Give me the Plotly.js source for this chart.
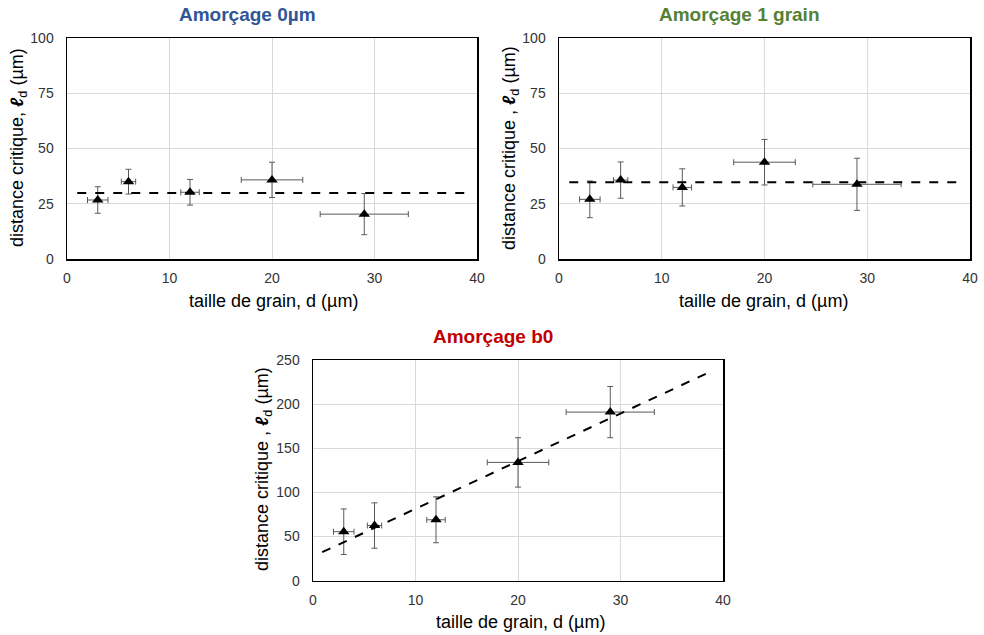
<!DOCTYPE html>
<html>
<head>
<meta charset="utf-8">
<script src="https://cdn.plot.ly/plotly-3.0.1.min.js"></script>
<style>html,body{margin:0;padding:0;background:#fff;}#chart{width:984px;height:635px;}</style>
</head>
<body>
<div id="chart"></div>
<script>
// grain sizes (x) and their spread
const grainSize = [3, 6, 12, 20, 29];
const grainErr  = [1, 0.7, 0.9, 3, 4.3];

// Panel A: Amorçage 0µm
const ldA    = [26.7, 35.0, 30.2, 35.8, 20.3];
const ldAErr = [6, 5.6, 5.8, 8, 9.3];
const trendAX = [1, 39];
const trendAY = [29.9, 29.9];

// Panel B: Amorçage 1 grain
const ldB    = [27.0, 35.7, 32.4, 43.8, 33.8];
const ldBErr = [8.3, 8.2, 8.4, 10.3, 11.8];
const trendBX = [1, 39];
const trendBY = [34.7, 34.7];

// Panel C: Amorçage b0
const ldC    = [55.5, 62.5, 69, 134, 191];
const ldCErr = [25.8, 25.7, 26, 28, 29];
const trendCX = [0.9, 39.1];
const trendCY = [32.3, 238.5];

const titles = ['Amorçage 0µm', 'Amorçage 1 grain', 'Amorçage b0'];
const titleColors = ['#2F5597', '#548235', '#C00000'];
const xTickVals = [0, 10, 20, 30, 40];

const FONT = 'Liberation Sans, Arial, sans-serif';
const errColor = '#595959';

function pointsTrace(y, yerr, xa, ya) {
  return {
    x: grainSize, y: y, xaxis: xa, yaxis: ya, type: 'scatter', mode: 'markers',
    marker: {symbol: 'triangle-up', size: 10, color: '#000'},
    error_y: {type: 'data', array: yerr, visible: true, color: errColor, thickness: 1, width: 3},
    error_x: {type: 'data', array: grainErr, visible: true, color: errColor, thickness: 1, width: 3},
    showlegend: false, hoverinfo: 'x+y'
  };
}
function trendTrace(x, y, xa, ya) {
  return {
    x: x, y: y, xaxis: xa, yaxis: ya, type: 'scatter', mode: 'lines',
    line: {color: '#000', width: 2, dash: 'dash'}, showlegend: false, hoverinfo: 'skip'
  };
}

const data = [
  pointsTrace(ldA, ldAErr, 'x', 'y'),
  trendTrace(trendAX, trendAY, 'x', 'y'),
  pointsTrace(ldB, ldBErr, 'x2', 'y2'),
  trendTrace(trendBX, trendBY, 'x2', 'y2'),
  pointsTrace(ldC, ldCErr, 'x3', 'y3'),
  trendTrace(trendCX, trendCY, 'x3', 'y3')
];

const W = 984, H = 635;
function xdom(l, r) { return [l / W, r / W]; }
function ydom(b, t) { return [1 - b / H, 1 - t / H]; }

function xAxis(dom, anchor) {
  return {
    domain: dom, anchor: anchor, range: [0, 40], tickvals: xTickVals,
    showgrid: true, gridcolor: '#d9d9d9', gridwidth: 1, zeroline: false,
    showline: true, mirror: true, linecolor: '#000', linewidth: 1.5,
    ticks: '', ticklabelstandoff: 6,
    tickfont: {family: FONT, size: 14, color: '#333'}, fixedrange: true
  };
}
function yAxis(dom, anchor, max, dt) {
  return {
    domain: dom, anchor: anchor, range: [0, max], dtick: dt, tick0: 0,
    showgrid: true, gridcolor: '#d9d9d9', gridwidth: 1, zeroline: false,
    showline: true, mirror: true, linecolor: '#000', linewidth: 1.5,
    ticks: '', ticklabelstandoff: 9,
    tickfont: {family: FONT, size: 14, color: '#333'}, fixedrange: true
  };
}

const ann = [];
function txt(text, x, y, size, color, angle, bold) {
  ann.push({
    text: bold ? '<b>' + text + '</b>' : text, x: x / W, y: 1 - y / H,
    xref: 'paper', yref: 'paper', showarrow: false, xanchor: 'center', yanchor: 'middle',
    textangle: angle || 0, font: {family: FONT, size: size, color: color}
  });
}
txt(titles[0], 247, 15, 19, titleColors[0], 0, true);
txt(titles[1], 739, 15, 19, titleColors[1], 0, true);
txt(titles[2], 493, 336, 19, titleColors[2], 0, true);

const ylabA = 'distance critique, <b><i>ℓ</i></b><sub>d</sub> (µm)';
const ylabB = 'distance critique , <b><i>ℓ</i></b><sub>d</sub> (µm)';
txt(ylabA, 19, 148, 18, '#000', -90);
txt(ylabB, 511, 148, 18, '#000', -90);
txt(ylabB, 263, 469, 18, '#000', -90);

const xlab = 'taille de grain, d (µm)';
txt(xlab, 273, 301, 18, '#000');
txt(xlab, 763, 301, 18, '#000');
txt(xlab, 520, 622, 18, '#000');

const layout = {
  width: W, height: H, margin: {l: 0, r: 0, t: 0, b: 0},
  paper_bgcolor: '#fff', plot_bgcolor: '#fff',
  xaxis: xAxis(xdom(67, 477), 'y'),
  yaxis: yAxis(ydom(259, 38), 'x', 100, 25),
  xaxis2: xAxis(xdom(559, 970), 'y2'),
  yaxis2: yAxis(ydom(259, 38), 'x2', 100, 25),
  xaxis3: xAxis(xdom(313, 723), 'y3'),
  yaxis3: yAxis(ydom(580.7, 360), 'x3', 250, 50),
  annotations: ann
};

Plotly.newPlot('chart', data, layout, {displayModeBar: false, staticPlot: true});
</script>
</body>
</html>
